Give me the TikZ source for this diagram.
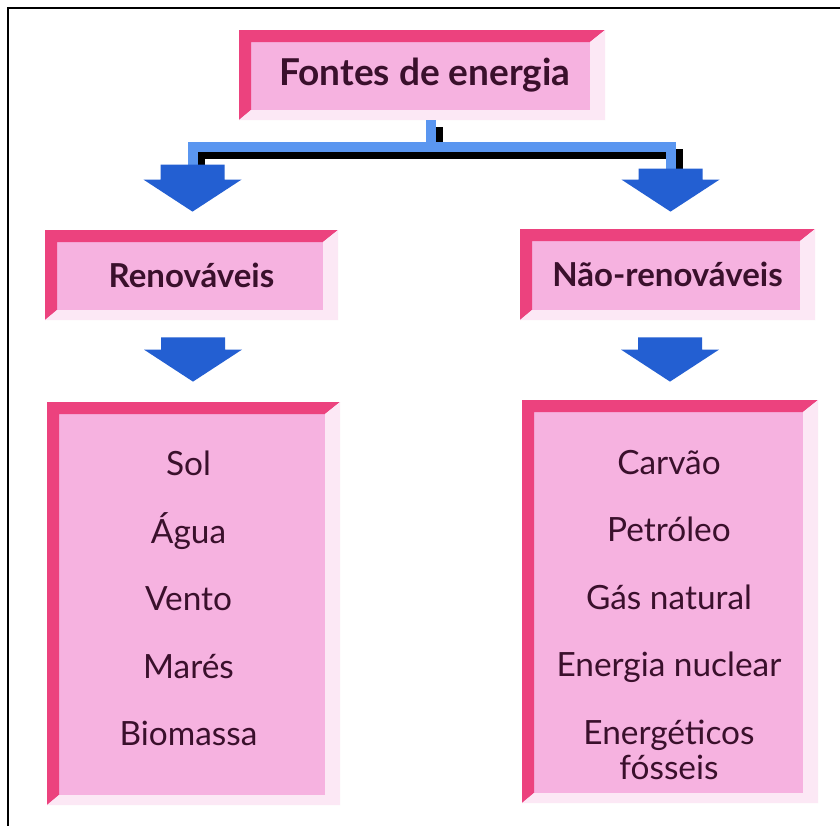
\documentclass[tikz,border=0pt]{standalone}
\usepackage{fontspec}
\setmainfont{Lato}
\usetikzlibrary{positioning, calc}

\definecolor{facepink}{RGB}{246,178,224}
\definecolor{edgepink}{RGB}{236,66,126}
\definecolor{lightpink}{RGB}{252,232,245}
\definecolor{barblue}{RGB}{90,150,240}
\definecolor{arrowblue}{RGB}{35,95,210}
\definecolor{inkpurple}{RGB}{58,16,44}

% block arrow pointing down: #1 tail, #2 tip
\newcommand{\blockdown}[2]{%
  \fill[arrowblue] let \p1=(#1), \p2=(#2) in
    (\x1-16pt,\y1) -- (\x1+16pt,\y1) -- (\x1+16pt,\y2+16pt) -- (\x1+24.5pt,\y2+16pt)
    -- (\x1,\y2) -- (\x1-24.5pt,\y2+16pt) -- (\x1-16pt,\y2+16pt) -- cycle;}

\tikzset{
  bevel/.style={fill=facepink, text=inkpurple, inner sep=0pt,
    path picture={
      \fill[edgepink] (path picture bounding box.north west)
        -- (path picture bounding box.north east) -- ++(-7.5pt,-6pt)
        -- ($(path picture bounding box.north west)+(6pt,-6pt)$)
        -- ($(path picture bounding box.south west)+(6pt,5pt)$)
        -- (path picture bounding box.south west) -- cycle;
      \fill[lightpink] (path picture bounding box.north east)
        -- (path picture bounding box.south east)
        -- (path picture bounding box.south west)
        -- ($(path picture bounding box.south west)+(6pt,5pt)$)
        -- ($(path picture bounding box.south east)+(-7.5pt,5pt)$)
        -- ($(path picture bounding box.north east)+(-7.5pt,-6pt)$) -- cycle;
    }},
  headfont/.style={font=\fontsize{18.5}{22}\selectfont\bfseries},
  subfont/.style={font=\fontsize{16.5}{20}\selectfont\bfseries},
  items/.style={font=\fontsize{16.7}{33.75}\selectfont, align=center,
    text=inkpurple, inner sep=0pt},
  barline/.style={line width=5pt},
}

\begin{document}
\begin{tikzpicture}[x=0.5pt, y=-0.5pt]
  \fill[white] (0,0) rectangle (840,826);
  \useasboundingbox (0,0) rectangle (840,826);
  \fill[black] (7,7) rectangle (840,9.4);
  \fill[black] (7,7) rectangle (9.4,826);

  % boxes
  \node[bevel, headfont, minimum width=183pt, minimum height=45pt] (fontes) at (422,75) {\hspace{3pt}Fontes de energia};
  \node[bevel, subfont, minimum width=146.5pt, minimum height=45pt] (renov) at (191.5,275) {Renováveis};
  \node[bevel, subfont, minimum width=147.5pt, minimum height=45.5pt] (naorenov) at (667.5,274.5) {Não-renováveis\hspace{3pt}};
  \node[bevel, minimum width=146.5pt, minimum height=201.5pt] (renlist) at (193.5,603.5) {};
  \node[bevel, minimum width=148pt, minimum height=201.5pt] (naolist) at (670,601.5) {};

  \node[items, anchor=north] (renitems) at ($(renlist.north)+(-5,49)$)
    {Sol\\Água\\Vento\\Marés\\Biomassa};
  \node[items, anchor=north] (naoitems) at ($(naolist.north)+(-1,50)$)
    {Carvão\\Petróleo\\Gás natural\\Energia nuclear\\Energéticos\\[-16.25pt]fósseis};

  % branching connector
  \coordinate (split) at ($(fontes.south)+(9,27)$);
  \coordinate (ltail) at ($(renov.north)+(1,-65)$);
  \coordinate (ltip) at ($(renov.north)+(1,-18)$);
  \coordinate (rtail) at ($(naorenov.north)+(3,-60)$);
  \coordinate (rtip) at ($(naorenov.north)+(3,-17)$);
  \begin{scope}[transform canvas={xshift=3.5pt, yshift=-3.5pt}]
    \draw[barline, black] ($(fontes.south)+(9,0)$) -- (split)
      (ltail) |- (split) -| (rtail);
  \end{scope}
  \draw[barline, barblue] ($(fontes.south)+(9,0)$) -- (split)
    (ltail) |- (split) -| (rtail);
  \blockdown{ltail}{ltip}
  \blockdown{rtail}{rtip}

  % lower arrows
  \coordinate (rentail) at ($(renov.south)+(1.5,17)$);
  \coordinate (rentip) at ($(renlist.north)+(0,-20)$);
  \coordinate (naotail) at ($(naorenov.south)+(2.5,17)$);
  \coordinate (naotip) at ($(naolist.north)+(0,-18)$);
  \blockdown{rentail}{rentip}
  \blockdown{naotail}{naotip}
\end{tikzpicture}
\end{document}
